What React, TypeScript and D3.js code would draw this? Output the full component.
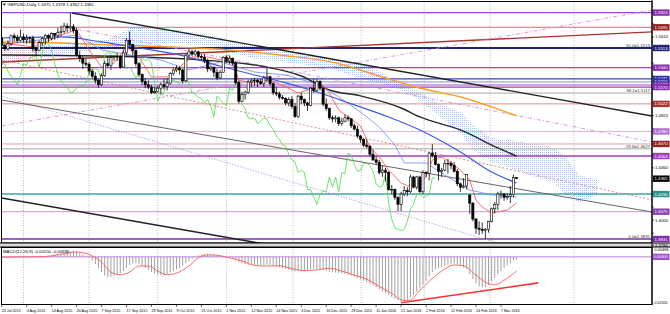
import React from 'react';
import * as d3 from 'd3';

// ---------------- DATA ----------------
const dateLabels = [
  '23 Jul 2015', '4 Aug 2015', '14 Aug 2015', '26 Aug 2015', '7 Sep 2015', '17 Sep 2015',
  '29 Sep 2015', '9 Oct 2015', '21 Oct 2015', '2 Nov 2015', '12 Nov 2015', '24 Nov 2015',
  '4 Dec 2015', '16 Dec 2015', '29 Dec 2015', '11 Jan 2016', '21 Jan 2016', '2 Feb 2016',
  '12 Feb 2016', '24 Feb 2016', '7 Mar 2016',
];
const labelStep = 8;

// daily candles [open, high, low, close]
const candles: [number, number, number, number][] = [
  [1.5600, 1.5620, 1.5530, 1.5535], [1.5535, 1.5545, 1.5485, 1.5505], [1.5505, 1.5580, 1.5490, 1.5550],
  [1.5550, 1.5630, 1.5530, 1.5620], [1.5620, 1.5640, 1.5570, 1.5605], [1.5605, 1.5630, 1.5560, 1.5580],
  [1.5580, 1.5675, 1.5570, 1.5610], [1.5610, 1.5640, 1.5560, 1.5585], [1.5585, 1.5630, 1.5550, 1.5600],
  [1.5600, 1.5615, 1.5555, 1.5595], [1.5595, 1.5620, 1.5480, 1.5505], [1.5505, 1.5520, 1.5445, 1.5490],
  [1.5490, 1.5580, 1.5485, 1.5560], [1.5560, 1.5605, 1.5530, 1.5595], [1.5595, 1.5635, 1.5545, 1.5625],
  [1.5625, 1.5635, 1.5565, 1.5600], [1.5600, 1.5650, 1.5580, 1.5640], [1.5640, 1.5645, 1.5585, 1.5625],
  [1.5625, 1.5690, 1.5600, 1.5650], [1.5650, 1.5705, 1.5620, 1.5660], [1.5660, 1.5735, 1.5640, 1.5705],
  [1.5705, 1.5730, 1.5650, 1.5690], [1.5690, 1.5820, 1.5660, 1.5700], [1.5700, 1.5725, 1.5640, 1.5665],
  [1.5665, 1.5690, 1.5440, 1.5450], [1.5450, 1.5490, 1.5390, 1.5420], [1.5420, 1.5440, 1.5330, 1.5380],
  [1.5380, 1.5420, 1.5350, 1.5370], [1.5370, 1.5390, 1.5280, 1.5310], [1.5310, 1.5330, 1.5250, 1.5265],
  [1.5265, 1.5300, 1.5200, 1.5230], [1.5230, 1.5240, 1.5165, 1.5190], [1.5190, 1.5290, 1.5180, 1.5270],
  [1.5270, 1.5400, 1.5260, 1.5375], [1.5375, 1.5440, 1.5340, 1.5360], [1.5360, 1.5450, 1.5320, 1.5430],
  [1.5430, 1.5450, 1.5400, 1.5435], [1.5435, 1.5470, 1.5400, 1.5440], [1.5440, 1.5450, 1.5330, 1.5345],
  [1.5345, 1.5500, 1.5340, 1.5470], [1.5470, 1.5600, 1.5450, 1.5580], [1.5580, 1.5660, 1.5530, 1.5545],
  [1.5545, 1.5550, 1.5450, 1.5490], [1.5490, 1.5500, 1.5350, 1.5375], [1.5375, 1.5390, 1.5260, 1.5280],
  [1.5280, 1.5290, 1.5190, 1.5220], [1.5220, 1.5250, 1.5160, 1.5190], [1.5190, 1.5230, 1.5150, 1.5170],
  [1.5170, 1.5190, 1.5107, 1.5120], [1.5120, 1.5170, 1.5110, 1.5130], [1.5130, 1.5180, 1.5120, 1.5160],
  [1.5160, 1.5210, 1.5110, 1.5190], [1.5190, 1.5240, 1.5150, 1.5175], [1.5175, 1.5250, 1.5140, 1.5205],
  [1.5205, 1.5300, 1.5190, 1.5290], [1.5290, 1.5335, 1.5270, 1.5320], [1.5320, 1.5360, 1.5300, 1.5335],
  [1.5335, 1.5350, 1.5280, 1.5320], [1.5320, 1.5330, 1.5200, 1.5225], [1.5225, 1.5460, 1.5210, 1.5450],
  [1.5450, 1.5509, 1.5430, 1.5480], [1.5480, 1.5500, 1.5440, 1.5460], [1.5460, 1.5500, 1.5440, 1.5480],
  [1.5480, 1.5490, 1.5420, 1.5440], [1.5440, 1.5460, 1.5410, 1.5430], [1.5430, 1.5460, 1.5380, 1.5400],
  [1.5400, 1.5420, 1.5300, 1.5330], [1.5330, 1.5360, 1.5310, 1.5345], [1.5345, 1.5350, 1.5260, 1.5300],
  [1.5300, 1.5330, 1.5230, 1.5250], [1.5250, 1.5320, 1.5240, 1.5300], [1.5300, 1.5440, 1.5300, 1.5430],
  [1.5430, 1.5450, 1.5380, 1.5400], [1.5400, 1.5440, 1.5370, 1.5420], [1.5420, 1.5430, 1.5360, 1.5380],
  [1.5380, 1.5400, 1.5190, 1.5210], [1.5210, 1.5230, 1.5025, 1.5045], [1.5045, 1.5130, 1.5040, 1.5105],
  [1.5105, 1.5140, 1.5060, 1.5125], [1.5125, 1.5230, 1.5110, 1.5215], [1.5215, 1.5240, 1.5170, 1.5225],
  [1.5225, 1.5250, 1.5180, 1.5230], [1.5230, 1.5240, 1.5170, 1.5215], [1.5215, 1.5240, 1.5190, 1.5200],
  [1.5200, 1.5270, 1.5170, 1.5250], [1.5250, 1.5335, 1.5220, 1.5260], [1.5260, 1.5270, 1.5180, 1.5200],
  [1.5200, 1.5210, 1.5100, 1.5120], [1.5120, 1.5170, 1.5090, 1.5110], [1.5110, 1.5130, 1.5060, 1.5080],
  [1.5080, 1.5100, 1.5060, 1.5070], [1.5070, 1.5080, 1.5010, 1.5030], [1.5030, 1.5080, 1.5000, 1.5060],
  [1.5060, 1.5090, 1.4980, 1.5000], [1.5000, 1.5030, 1.4900, 1.4910], [1.4910, 1.5100, 1.4895, 1.5090],
  [1.5090, 1.5120, 1.5020, 1.5060], [1.5060, 1.5070, 1.5000, 1.5030], [1.5030, 1.5040, 1.4960, 1.5010],
  [1.5010, 1.5170, 1.5000, 1.5160], [1.5160, 1.5240, 1.5120, 1.5140], [1.5140, 1.5240, 1.5130, 1.5220],
  [1.5220, 1.5230, 1.5140, 1.5160], [1.5160, 1.5170, 1.5000, 1.5020], [1.5020, 1.5070, 1.4960, 1.4980],
  [1.4980, 1.4990, 1.4880, 1.4900], [1.4900, 1.4920, 1.4860, 1.4890], [1.4890, 1.4920, 1.4860, 1.4900],
  [1.4900, 1.4910, 1.4830, 1.4850], [1.4850, 1.4900, 1.4830, 1.4870], [1.4870, 1.4930, 1.4860, 1.4900],
  [1.4900, 1.4920, 1.4870, 1.4890], [1.4890, 1.4900, 1.4810, 1.4830], [1.4830, 1.4850, 1.4790, 1.4800],
  [1.4800, 1.4830, 1.4720, 1.4740], [1.4740, 1.4750, 1.4680, 1.4710], [1.4710, 1.4720, 1.4640, 1.4660],
  [1.4660, 1.4710, 1.4630, 1.4650], [1.4650, 1.4660, 1.4560, 1.4580], [1.4580, 1.4620, 1.4520, 1.4530],
  [1.4530, 1.4560, 1.4490, 1.4510], [1.4510, 1.4530, 1.4400, 1.4420], [1.4420, 1.4480, 1.4380, 1.4440],
  [1.4440, 1.4460, 1.4340, 1.4420], [1.4420, 1.4430, 1.4260, 1.4270], [1.4270, 1.4310, 1.4230, 1.4270],
  [1.4270, 1.4280, 1.4180, 1.4200], [1.4200, 1.4210, 1.4080, 1.4140], [1.4140, 1.4250, 1.4079, 1.4230],
  [1.4230, 1.4300, 1.4210, 1.4260], [1.4260, 1.4290, 1.4210, 1.4250], [1.4250, 1.4400, 1.4240, 1.4380],
  [1.4380, 1.4390, 1.4280, 1.4290], [1.4290, 1.4390, 1.4270, 1.4380], [1.4380, 1.4390, 1.4240, 1.4250],
  [1.4250, 1.4440, 1.4230, 1.4420], [1.4420, 1.4430, 1.4380, 1.4410], [1.4410, 1.4600, 1.4350, 1.4590],
  [1.4590, 1.4668, 1.4550, 1.4570], [1.4570, 1.4600, 1.4480, 1.4490], [1.4490, 1.4500, 1.4350, 1.4430],
  [1.4430, 1.4460, 1.4380, 1.4440], [1.4440, 1.4530, 1.4430, 1.4500], [1.4500, 1.4540, 1.4410, 1.4500],
  [1.4500, 1.4520, 1.4450, 1.4480], [1.4480, 1.4510, 1.4420, 1.4430], [1.4430, 1.4450, 1.4300, 1.4320],
  [1.4320, 1.4330, 1.4250, 1.4290], [1.4290, 1.4370, 1.4280, 1.4300], [1.4300, 1.4400, 1.4270, 1.4400],
  [1.4220, 1.4230, 1.4055, 1.4150], [1.4150, 1.4160, 1.3990, 1.4010], [1.4010, 1.4020, 1.3880, 1.3930],
  [1.3930, 1.3990, 1.3870, 1.3920], [1.3920, 1.3980, 1.3880, 1.3910], [1.3910, 1.3930, 1.3835, 1.3920],
  [1.3920, 1.3995, 1.3890, 1.3990], [1.3990, 1.4110, 1.3980, 1.4100], [1.4100, 1.4160, 1.4060, 1.4140],
  [1.4140, 1.4250, 1.4090, 1.4230], [1.4230, 1.4260, 1.4190, 1.4230], [1.4230, 1.4240, 1.4170, 1.4200],
  [1.4200, 1.4240, 1.4180, 1.4210], [1.4210, 1.4300, 1.4150, 1.4225], [1.4225, 1.4400, 1.4200, 1.4375],
  [1.4375, 1.4378, 1.4362, 1.4365],
];

// moving averages: [bar index, price]
const maOrange: [number, number][] = [
  [0, 1.5566], [19, 1.5557], [35, 1.5540], [54, 1.5522], [73, 1.5496], [89, 1.5452], [107, 1.5382],
  [121, 1.5267], [134, 1.5162], [147, 1.5083], [157, 1.4995], [165, 1.4916],
];
const maBlack: [number, number][] = [
  [0, 1.5452], [32, 1.5443], [64, 1.5408], [83, 1.5355], [96, 1.5267], [105, 1.5144], [115, 1.5092],
  [128, 1.4986], [134, 1.4907], [147, 1.4793], [159, 1.4635], [165, 1.4564],
];
const maBlue: [number, number][] = [
  [0, 1.5601], [19, 1.5610], [32, 1.5566], [44, 1.5513], [57, 1.5452], [70, 1.5355], [81, 1.5276],
  [91, 1.5206], [102, 1.5118], [113, 1.5013], [124, 1.4907], [134, 1.4793], [147, 1.4600], [157, 1.4424],
  [165, 1.4327],
];
const kijun: [number, number][] = [
  [0, 1.5540], [12, 1.5584], [24, 1.5628], [32, 1.5496], [41, 1.5452], [51, 1.5408], [60, 1.5320],
  [70, 1.5390], [81, 1.5302], [91, 1.5276], [102, 1.5188], [108, 1.5083], [115, 1.4951], [121, 1.4819],
  [126, 1.4661], [129, 1.4503], [136, 1.4503], [143, 1.4380], [150, 1.4266], [157, 1.4222], [165, 1.4204],
];
const tenkan: [number, number][] = [
  [0, 1.5557], [10, 1.5522], [21, 1.5645], [24, 1.5672], [28, 1.5496], [32, 1.5346], [36, 1.5382],
  [40, 1.5522], [44, 1.5434], [48, 1.5259], [53, 1.5259], [57, 1.5346], [61, 1.5434], [66, 1.5434],
  [70, 1.5408], [73, 1.5452], [76, 1.5232], [80, 1.5206], [86, 1.5232], [91, 1.5171], [95, 1.5118],
  [98, 1.5144], [102, 1.5206], [105, 1.5118], [108, 1.4969], [115, 1.4828], [118, 1.4643], [121, 1.4556],
  [124, 1.4441], [128, 1.4327], [131, 1.4292], [134, 1.4327], [136, 1.4380], [138, 1.4529], [141, 1.4556],
  [144, 1.4503], [147, 1.4441], [150, 1.4353], [152, 1.4178], [154, 1.4116], [157, 1.4063], [162, 1.4090],
  [165, 1.4151],
];
const chikouShift = 26;

// Ichimoku cloud: [bar index, upper span, lower span]
const kumo: [number, number, number][] = [
  [0, 1.5496, 1.5355], [12, 1.5531, 1.5426], [25, 1.5549, 1.5478], [35, 1.5601, 1.5513],
  [41, 1.5689, 1.5540], [49, 1.5698, 1.5549], [57, 1.5672, 1.5549], [67, 1.5628, 1.5540],
  [73, 1.5584, 1.5478], [83, 1.5513, 1.5408], [96, 1.5478, 1.5373], [105, 1.5426, 1.5338],
  [115, 1.5390, 1.5250], [128, 1.5206, 1.5144], [134, 1.5127, 1.5056], [141, 1.5013, 1.4898],
  [147, 1.4951, 1.4766], [151, 1.4837, 1.4617], [157, 1.4723, 1.4512], [163, 1.4705, 1.4459],
  [169, 1.4679, 1.4397], [177, 1.4643, 1.4327], [181, 1.4547, 1.4222], [185, 1.4397, 1.4151],
  [191, 1.4353, 1.4222],
];
const kumoFlipBar = 12;

// horizontal levels
const levelPrices = [1.5824, 1.5695, 1.5513, 1.5340, 1.5241, 1.5215, 1.5188, 1.5170, 1.5022, 1.4780, 1.4670, 1.4564, 1.4230, 1.4075, 1.3835];
const fibLevels: [string, number][] = [['50.0', 1.5513], ['38.2', 1.5117], ['23.6', 1.4627], ['0.0', 1.3835]];

// trend lines [[bar, price], [bar, price]]
const trendTop: [number, number][] = [[22.5, 1.5821], [208.4, 1.4916]];
const trendMid: [number, number][] = [[0, 1.5056], [208.4, 1.4072]];
const trendLow: [number, number][] = [[0, 1.4195], [208.4, 1.3194]];
const trendPurpleDot: [number, number][] = [[0, 1.5090], [208.4, 1.3400]];
const trendPinkRise: [number, number][] = [[0, 1.4828], [208.4, 1.5847]];
const trendRedDash: [number, number][] = [[0, 1.5408], [208.4, 1.4178]];
const trendLilac: [number, number][] = [[18.7, 1.5707], [208.4, 1.4687]];
const trendDarkRed: [number, number][] = [[0, 1.5390], [208.4, 1.5654]];

const priceTicks = [1.5840, 1.5725, 1.5610, 1.5495, 1.5380, 1.5265, 1.5150, 1.5035, 1.4920, 1.4805, 1.4690,
  1.4575, 1.4460, 1.4345, 1.4230, 1.4115, 1.4000, 1.3885, 1.3780];
const gridBars = [7, 28, 50, 72, 93.4, 115.2, 135.4, 156.5, 183.4];

// MACD histogram (x 1e-4), one value per bar
const macdHist = [
  -2, -3, -2, 0, 1, 2, 1, 0, 1, 2, 1, -1, 0, 2, 4, 6, 8, 11, 14, 18, 22, 25, 29, 32, 28, 20, 12, 4, -5, -18,
  -35, -55, -75, -92, -100, -98, -92, -85, -82, -70, -55, -40, -32, -30, -36, -45, -55, -65, -75, -82,
  -87, -90, -88, -84, -78, -70, -62, -55, -45, -32, -20, -8, 2, 8, 12, 14, 15, 13, 10, 6, 3, 2, 0, -2, -8,
  -16, -25, -32, -36, -38, -40, -40, -41, -42, -40, -38, -40, -44, -48, -52, -56, -60, -64, -70, -72, -70,
  -70, -71, -68, -62, -58, -60, -62, -66, -70, -73, -76, -78, -80, -81, -84, -88, -92, -98, -104, -110,
  -118, -126, -134, -142, -150, -160, -170, -178, -188, -198, -207, -215, -222, -220, -212, -200, -188,
  -172, -155, -138, -120, -95, -75, -62, -55, -50, -45, -40, -35, -33, -38, -45, -52, -58, -85, -110, -130,
  -145, -150, -148, -138, -122, -104, -86, -70, -55, -42, -30, -18, -15,
];
const macdSignal: [number, number][] = [
  [0, -2], [8, 0], [14, 2], [20, 15], [24, 24], [28, 12], [32, -25], [35, -75], [38, -88], [41, -75],
  [44, -45], [47, -45], [50, -70], [53, -88], [56, -80], [60, -45], [63, -5], [66, 10], [69, 8], [73, -5],
  [77, -20], [81, -42], [85, -45], [89, -44], [93, -58], [97, -68], [101, -64], [105, -56], [109, -70],
  [113, -90], [117, -110], [121, -145], [125, -180], [129, -215], [131, -212], [134, -165], [137, -120],
  [141, -70], [145, -40], [148, -44], [152, -90], [155, -125], [158, -138], [161, -115], [165, -70],
];
const macdDivergence: [number, number][] = [[128, -0.0226], [172, -0.0128]];
const macdTicks = { top: 0.00486, zero: 0, bottom: -0.0232 };

// ---------------- STYLES ----------------
const levelColors = ['#a040cc', '#d27070', '#22227a', '#a040cc', '#4040b8', '#8a8ad8', '#a050c8', '#9b3fc4',
  '#e08a8a', '#dcaee8', '#e6a2a2', '#a040c0', '#3fa6a6', '#c896dc', '#7a30a8'];
const levelBoxColors = ['#8a2cb0', '#9a2020', '#22227a', '#8a2cb0', '#3030a8', '#3030a8', '#7a30a8', '#8a2cb0',
  '#b03030', '#b070d0', '#9a2020', '#a040c0', '#2e9090', '#8a40b0', '#7a30a8'];
const levelWidths = [1.2, 1, 2, 1.2, 1.2, 1, 1, 1.2, 1, 1, 1, 1.4, 1.6, 1, 1.4];
const FONT = 'Liberation Sans, Arial, sans-serif';

export default function App() {
  const x = d3.scaleLinear().domain([0, 208.4]).range([1.7, 652]);
  const y = d3.scaleLinear().domain([1.3835, 1.5513]).range([239, 48]);
  const my = d3.scaleLinear().domain([macdTicks.bottom, macdTicks.top]).range([304, 247]);

  const pl = d3.line<[number, number]>().x(d => x(d[0])).y(d => y(d[1]));
  const plSmooth = d3.line<[number, number]>().x(d => x(d[0])).y(d => y(d[1])).curve(d3.curveMonotoneX);
  const kumoArea = d3.area<[number, number, number]>()
    .x(d => x(d[0])).y0(d => y(d[2])).y1(d => y(d[1]));
  const sigLine = d3.line<[number, number]>().x(d => x(d[0])).y(d => my(d[1] * 1e-4)).curve(d3.curveMonotoneX);
  const divLine = d3.line<[number, number]>().x(d => x(d[0])).y(d => my(d[1]));

  const chikou: [number, number][] = candles
    .map((c, i) => [i - chikouShift, c[3]] as [number, number])
    .filter(d => d[0] >= -1);

  const kumoPink = kumo.filter(d => d[0] <= kumoFlipBar);
  const kumoBlue = kumo.filter(d => d[0] >= kumoFlipBar);

  const last = candles[candles.length - 1];
  const fmt = (p: number) => p.toFixed(4);
  const bw = 1.1;
  const fs = 4.3;

  // axis labels hidden under the coloured price boxes are not drawn
  const boxYs = [...levelPrices, last[3]].map(p => y(p));
  const visibleTicks = priceTicks.filter(p => boxYs.every(by => Math.abs(by - y(p)) > 6.2));

  return (
    <svg width={670} height={314} style={{ position: 'absolute', left: 0, top: 0, background: '#fff', display: 'block' }}
      fontFamily={FONT}>
      <defs>
        <clipPath id="mainClip"><rect x={1.5} y={1.5} width={650.5} height={241.5} /></clipPath>
        <clipPath id="macdClip"><rect x={1.5} y={247.5} width={650.5} height={56.5} /></clipPath>
        <pattern id="kumoBlue" width={2} height={2} patternUnits="userSpaceOnUse">
          <rect width={1} height={1} fill="#9cc4f6" />
        </pattern>
        <pattern id="kumoPink" width={2} height={2} patternUnits="userSpaceOnUse">
          <rect width={1} height={1} fill="#eab0d4" />
        </pattern>
      </defs>
      <rect x={0} y={0} width={670} height={314} fill="#fff" />

      {/* ---------- main window ---------- */}
      <g clipPath="url(#mainClip)">
        {gridBars.map((b, k) => (
          <line key={k} x1={x(b)} x2={x(b)} y1={0} y2={243} stroke="#9a9a9a" strokeWidth={0.7} strokeDasharray="1,1.5" />
        ))}
        <path d={kumoArea(kumoPink) || ''} fill="url(#kumoPink)" />
        <path d={kumoArea(kumoBlue) || ''} fill="url(#kumoBlue)" />

        {levelPrices.map((p, k) => (
          <line key={k} x1={0} x2={652} y1={y(p)} y2={y(p)} stroke={levelColors[k]} strokeWidth={levelWidths[k]} />
        ))}
        {fibLevels.filter(f => f[0] === '38.2' || f[0] === '23.6').map((f, k) => (
          <line key={k} x1={0} x2={652} y1={y(f[1])} y2={y(f[1])} stroke="#a8a8a8" strokeWidth={1} />
        ))}

        <path d={pl(trendDarkRed) || ''} stroke="#a83232" strokeWidth={1.3} fill="none" />
        <path d={pl(trendPinkRise) || ''} stroke="#e08ad0" strokeWidth={0.9} strokeDasharray="4,2,1,2" fill="none" />
        <path d={pl(trendLilac) || ''} stroke="#cc90dc" strokeWidth={0.9} strokeDasharray="4,2,1,2" fill="none" />
        <path d={pl(trendRedDash) || ''} stroke="#d88080" strokeWidth={0.9} strokeDasharray="2,2" fill="none" />
        <path d={pl(trendPurpleDot) || ''} stroke="#b488e6" strokeWidth={0.9} strokeDasharray="1.2,1.5" fill="none" />
        <path d={pl(trendTop) || ''} stroke="#222" strokeWidth={1.4} fill="none" />
        <path d={pl(trendMid) || ''} stroke="#666" strokeWidth={1} fill="none" />
        <path d={pl(trendLow) || ''} stroke="#222" strokeWidth={1.4} fill="none" />

        <path d={plSmooth(maOrange) || ''} stroke="#ff9a1a" strokeWidth={1.4} fill="none" />
        <path d={plSmooth(maBlack) || ''} stroke="#2a2a2a" strokeWidth={1.4} fill="none" />
        <path d={plSmooth(maBlue) || ''} stroke="#3a5ae0" strokeWidth={1.2} fill="none" />
        <path d={pl(kijun) || ''} stroke="#7088ff" strokeWidth={0.8} fill="none" />
        <path d={pl(tenkan) || ''} stroke="#ff4a4a" strokeWidth={0.8} fill="none" />
        <path d={pl(chikou) || ''} stroke="#44dd44" strokeWidth={0.8} fill="none" />

        {candles.map((c, i) => {
          const [o, h, l, cl] = c;
          const cx = x(i);
          const bull = cl >= o;
          const top = y(Math.max(o, cl));
          const bot = y(Math.min(o, cl));
          return (
            <g key={i}>
              <line x1={cx} x2={cx} y1={y(h)} y2={y(l)} stroke="#000" strokeWidth={0.8} />
              <rect x={cx - bw} y={top} width={bw * 2} height={Math.max(bot - top, 0.6)}
                fill={bull ? '#fff' : '#000'} stroke="#000" strokeWidth={0.6} />
            </g>
          );
        })}

        {fibLevels.map((f, k) => (
          <text key={k} x={650} y={y(f[1]) - 1.2} fontSize={fs} textAnchor="end" fill="#333">
            {`${f[0]}=${fmt(f[1])}`}
          </text>
        ))}
        <path d="M2.5,3.5 L6,3.5 L4.25,6 Z" fill="#333" />
        <text x={7.5} y={6} fontSize={fs} fill="#000">
          {`GBPUSD,Daily  ${fmt(last[0])} ${fmt(last[1])} ${fmt(last[2])} ${fmt(last[3])}`}
        </text>
      </g>

      {/* frames */}
      <rect x={1.5} y={1.5} width={650.5} height={241.5} fill="none" stroke="#000" strokeWidth={1} />
      <rect x={0} y={243} width={670} height={4} fill="#d8d8d8" />
      <line x1={0} x2={670} y1={243} y2={243} stroke="#000" strokeWidth={1} />
      <line x1={0} x2={670} y1={247} y2={247} stroke="#000" strokeWidth={1} />

      {/* ---------- MACD window ---------- */}
      <g clipPath="url(#macdClip)">
        {gridBars.map((b, k) => (
          <line key={k} x1={x(b)} x2={x(b)} y1={247} y2={305} stroke="#9a9a9a" strokeWidth={0.7} strokeDasharray="1,1.5" />
        ))}
        <line x1={0} x2={652} y1={my(0)} y2={my(0)} stroke="#c080e0" strokeWidth={1} />
        {macdHist.map((v, i) => (
          <line key={i} x1={x(i)} x2={x(i)} y1={my(0)} y2={my(v * 1e-4)} stroke="#a0a0a0" strokeWidth={1} />
        ))}
        <path d={sigLine(macdSignal) || ''} stroke="#ff5a5a" strokeWidth={0.9} fill="none" />
        <path d={divLine(macdDivergence) || ''} stroke="#ff3030" strokeWidth={1.6} fill="none" />
        <text x={3} y={252.5} fontSize={fs} fill="#000">
          {`MACD(12,26,9) ${(macdHist[macdHist.length - 1] * 1e-4).toFixed(5)} ${(macdSignal[macdSignal.length - 1][1] * 1e-4 + 0.00004).toFixed(5)}`}
        </text>
      </g>
      <rect x={1.5} y={247.5} width={650.5} height={57} fill="none" stroke="#000" strokeWidth={1} />

      {/* ---------- right price axis ---------- */}
      <line x1={652} x2={652} y1={0} y2={305} stroke="#000" strokeWidth={1} />
      {priceTicks.map((p, k) => (
        <line key={k} x1={652} x2={654} y1={y(p)} y2={y(p)} stroke="#000" strokeWidth={0.6} />
      ))}
      {visibleTicks.map((p, k) => (
        <text key={k} x={655} y={y(p) + 1.5} fontSize={fs} fill="#000">{fmt(p)}</text>
      ))}
      {levelPrices.map((p, k) => (
        <g key={k}>
          <rect x={653} y={y(p) - 3.2} width={16.5} height={6.4} fill={levelBoxColors[k]} />
          <text x={654.5} y={y(p) + 1.5} fontSize={fs} fill="#fff">{fmt(p)}</text>
        </g>
      ))}
      <rect x={653} y={y(last[3]) - 3.2} width={16.5} height={6.4} fill="#000" />
      <text x={654.5} y={y(last[3]) + 1.5} fontSize={fs} fill="#fff">{fmt(last[3])}</text>

      {/* MACD axis */}
      <text x={654.5} y={my(macdTicks.top) + 3.5} fontSize={3.9} fill="#000">{macdTicks.top.toFixed(5)}</text>
      <rect x={653} y={my(0) - 3.2} width={16.5} height={6.4} fill="#a050c8" />
      <text x={653.6} y={my(0) + 1.4} fontSize={3.9} fill="#fff">{macdTicks.zero.toFixed(5)}</text>
      <text x={653.2} y={my(macdTicks.bottom) - 0.5} fontSize={3.6} fill="#000">{macdTicks.bottom.toFixed(5)}</text>

      {/* ---------- time axis ---------- */}
      {dateLabels.map((lbl, k) => (
        <g key={k}>
          <line x1={x(k * labelStep)} x2={x(k * labelStep)} y1={305} y2={307} stroke="#000" strokeWidth={0.6} />
          <text x={x(k * labelStep)} y={311.5} fontSize={3.7} fill="#000">{lbl}</text>
        </g>
      ))}
    </svg>
  );
}
